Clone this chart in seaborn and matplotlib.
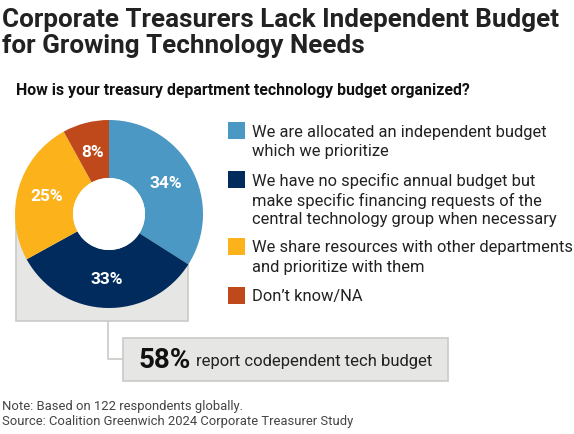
import matplotlib.pyplot as plt
import seaborn as sns
from matplotlib.patches import Rectangle, Circle

sns.set_theme(style='white')
plt.rcParams['font.family'] = ['Roboto', 'DejaVu Sans']

# Data
answers = [
    'We are allocated an independent budget\nwhich we prioritize',
    'We have no specific annual budget but\nmake specific financing requests of the\ncentral technology group when necessary',
    'We share resources with other departments\nand prioritize with them',
    'Don\u2019t know/NA',
]
shares = [34, 33, 25, 8]
colors = sns.color_palette(['#4a98c3', '#002b5c', '#fbb21b', '#c0491c'])

title = 'Corporate Treasurers Lack Independent Budget\nfor Growing Technology Needs'
question = 'How is your treasury department technology budget organized?'
callout_pct = '58%'
callout_text = 'report codependent tech budget'
note = 'Note: Based on 122 respondents globally.'
source = 'Source: Coalition Greenwich 2024 Corporate Treasurer Study'

W, H = 574, 435
fig = plt.figure(figsize=(W / 100, H / 100), dpi=100)
ax = fig.add_axes([0, 0, 1, 1])


def Y(y_px):
    # pixel row (from top) -> data y (from bottom)
    return H - y_px


grey_edge = '#c9cbc8'
grey_fill = '#e6e7e5'

# grey box behind lower half of donut
ax.add_patch(Rectangle((16, Y(322)), 172, 108, facecolor=grey_fill,
                       edgecolor=grey_edge, lw=1.2, zorder=1))
# connector line
ax.plot([108, 108, 123], [Y(322), Y(360), Y(360)], color=grey_edge, lw=1.2, zorder=1)

# donut
wedges, texts, autotexts = ax.pie(
    shares, colors=colors, startangle=90, counterclock=False,
    center=(109, Y(215)), radius=94,
    wedgeprops=dict(width=58, edgecolor='none'),
    autopct=lambda p: f'{p:.0f}%', pctdistance=0.69,
    textprops=dict(color='white', fontsize=12.5, fontweight='bold'),
)
for w in wedges:
    w.set_zorder(2)
for t in autotexts:
    t.set_zorder(3)
# white hole
ax.add_patch(Circle((109, Y(215)), 36, facecolor='white', edgecolor='none', zorder=2))

# callout box
ax.add_patch(Rectangle((123, Y(382)), 325, 43, facecolor=grey_fill,
                       edgecolor=grey_edge, lw=1.2, zorder=1))
ax.text(138, Y(361), callout_pct, fontsize=20, fontweight='bold',
        color='#111111', va='center', ha='left', zorder=3)
ax.text(196, Y(362), callout_text, fontsize=12, color='#222222',
        va='center', ha='left', zorder=3)

# legend
square_tops = [123, 172, 239, 288]
for lab, col, top in zip(answers, colors, square_tops):
    ax.add_patch(Rectangle((228, Y(top + 17)), 17, 17, facecolor=col,
                           edgecolor='none', zorder=2))
    for i, line in enumerate(lab.split('\n')):
        ax.text(252, Y(top + 9 + i * 19.5), line, fontsize=11.9,
                color='#222222', va='center', ha='left')

# titles
for i, line in enumerate(title.split('\n')):
    ax.text(2, Y(20 + i * 26), line, fontsize=18.7, fontweight='semibold',
            color='#222222', va='center', ha='left')
ax.text(16, Y(90), question, fontsize=11.4, fontweight='bold',
        color='#111111', va='center', ha='left')

# footnotes
ax.text(2, Y(407), note, fontsize=9.4, color='#444444', va='center', ha='left')
ax.text(2, Y(422), source, fontsize=9.4, color='#444444', va='center', ha='left')

ax.set_xlim(0, W)
ax.set_ylim(0, H)
ax.set_aspect('auto')
ax.axis('off')

fig.savefig('out.png', dpi=100)
